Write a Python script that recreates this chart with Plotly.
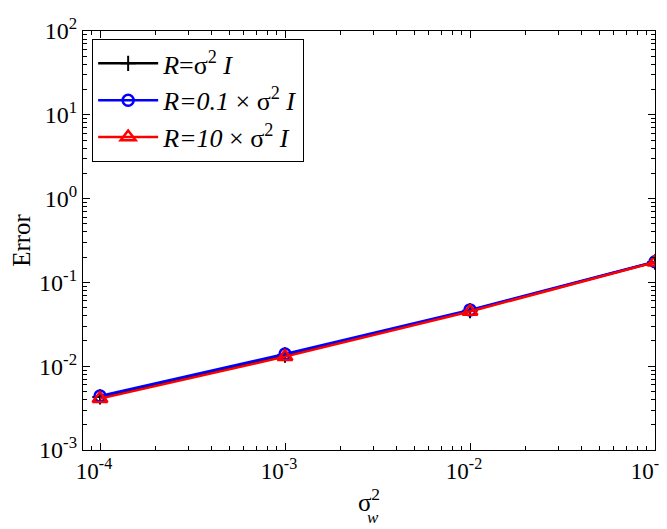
import plotly.graph_objects as go

sigma_w2 = [1e-4, 1e-3, 1e-2, 1e-1]
err_R1 = [4.3e-3, 1.36e-2, 4.6e-2, 1.75e-1]
err_R01 = [4.4e-3, 1.4e-2, 4.7e-2, 1.76e-1]
err_R10 = [4.1e-3, 1.3e-2, 4.5e-2, 1.74e-1]

x_tickvals = [1e-4, 1e-3, 1e-2, 1e-1]
x_ticktext = ["10<sup>-4</sup>", "10<sup>-3</sup>", "10<sup>-2</sup>", "10<sup>-1</sup>"]
y_tickvals = [1e-3, 1e-2, 1e-1, 1e0, 1e1, 1e2]
y_ticktext = ["10<sup>-3</sup>", "10<sup>-2</sup>", "10<sup>-1</sup>", "10<sup>0</sup>", "10<sup>1</sup>", "10<sup>2</sup>"]

names = ["<i>R</i>=σ<sup>2</sup> <i>I</i>",
         "<i>R=0.1</i> × σ<sup>2</sup> <i>I</i>",
         "<i>R=10</i> × σ<sup>2</sup> <i>I</i>"]

FONT = "Liberation Serif, Times New Roman, serif"

x_minor = [m * d for d in [1e-5, 1e-4, 1e-3, 1e-2] for m in range(2, 10)]
y_minor = [m * d for d in [1e-3, 1e-2, 1e-1, 1e0, 1e1] for m in range(2, 10)]

fig = go.Figure()
fig.add_trace(go.Scatter(x=sigma_w2, y=err_R1, name=names[0], mode="lines+markers",
                         line=dict(color="black", width=2.5),
                         marker=dict(symbol="cross-thin", size=11, color="black",
                                     line=dict(color="black", width=2))))
fig.add_trace(go.Scatter(x=sigma_w2, y=err_R01, name=names[1], mode="lines+markers",
                         line=dict(color="#0000ff", width=2.5),
                         marker=dict(symbol="circle-open", size=11, color="#0000ff",
                                     line=dict(color="#0000ff", width=2.5))))
fig.add_trace(go.Scatter(x=sigma_w2, y=err_R10, name=names[2], mode="lines+markers",
                         line=dict(color="#ff0000", width=2.5),
                         marker=dict(symbol="triangle-up-open", size=13, color="#ff0000",
                                     line=dict(color="#ff0000", width=2.5))))

axis_common = dict(type="log", showgrid=False, zeroline=False, showline=True,
                   linecolor="black", linewidth=1.2, mirror="allticks",
                   ticks="inside", ticklen=7, tickwidth=1, tickcolor="black",
                   automargin=False)

fig.update_xaxes(range=[-4.092, -1.0], tickmode="array", tickvals=x_tickvals, ticktext=x_ticktext,
                 tickfont=dict(family=FONT, size=23, color="black"), ticklabelshift=-6,
                 minor=dict(tickmode="array", tickvals=x_minor, ticks="inside", ticklen=4,
                            tickwidth=1, tickcolor="black", showgrid=False),
                 title=dict(text="σ<sup>2</sup>", font=dict(family=FONT, size=25, color="black"),
                            standoff=10),
                 **axis_common)
fig.update_yaxes(range=[-3, 2], tickmode="array", tickvals=y_tickvals, ticktext=y_ticktext,
                 tickfont=dict(family=FONT, size=24, color="black"),
                 minor=dict(tickmode="array", tickvals=y_minor, ticks="inside", ticklen=4,
                            tickwidth=1, tickcolor="black", showgrid=False),
                 title=dict(text="Error", font=dict(family=FONT, size=25, color="black"), standoff=14),
                 **axis_common)

fig.add_annotation(text="<i>w</i>", xref="paper", yref="paper", x=0.5, y=-0.16,
                   xanchor="left", yanchor="middle", showarrow=False, xshift=-4,
                   font=dict(family=FONT, size=17, color="black"))

fig.update_layout(
    width=667, height=529,
    margin=dict(l=75, r=20, t=23, b=87),
    paper_bgcolor="white", plot_bgcolor="white",
    font=dict(family=FONT, color="black"),
    legend=dict(x=0.016, y=0.981, xanchor="left", yanchor="top",
                bgcolor="white", bordercolor="black", borderwidth=1,
                font=dict(family=FONT, size=26, color="black"),
                itemwidth=60),
    showlegend=True,
)

fig.write_html("out.html")
